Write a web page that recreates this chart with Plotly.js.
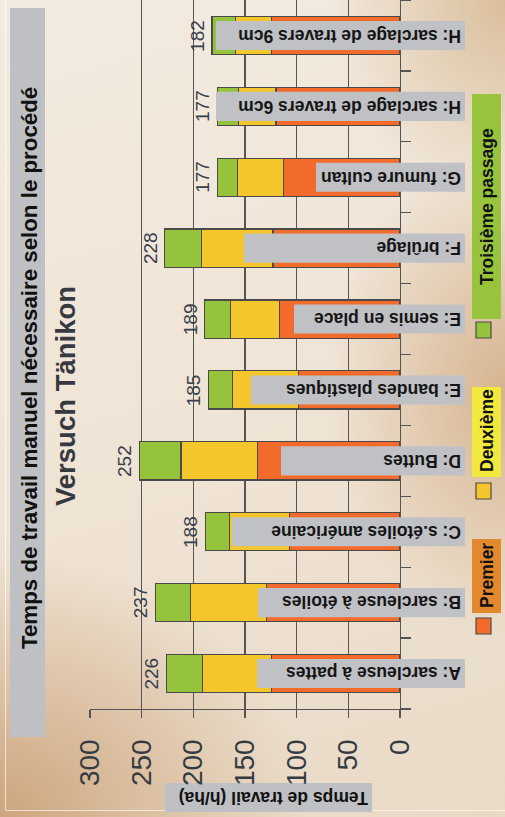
<!DOCTYPE html>
<html>
<head>
<meta charset="utf-8">
<script src="https://cdn.plot.ly/plotly-3.0.1.min.js"></script>
<style>
  html, body { margin: 0; padding: 0; }
  body {
    position: relative;
    width: 505px; height: 817px; overflow: hidden;
    background:
      radial-gradient(ellipse 60% 32% at 0% 100%, rgba(205,165,125,1) 0%, rgba(205,165,125,0) 100%),
      radial-gradient(ellipse 35% 30% at 100% 48%, rgba(214,180,143,1) 0%, rgba(214,180,143,0) 100%),
      radial-gradient(ellipse 35% 25% at 100% 0%, rgba(218,190,155,1) 0%, rgba(218,190,155,0) 100%),
      linear-gradient(165deg, #f3ebe0 0%, #efe3d4 55%, #e9dac6 100%);
  }
  #frame {
    position: absolute; left: 5px; top: -5px; width: 520px; height: 816px;
    border-left: 1.5px solid rgba(255,255,255,0.65);
    border-bottom: 1.5px solid rgba(255,255,255,0.65);
    box-sizing: border-box; pointer-events: none;
  }
  #chart { position: absolute; left: 0; top: 0; width: 505px; height: 817px; }
</style>
</head>
<body>
<div id="frame"></div>
<div id="chart"></div>
<script>
// ---- data ----
const categories = [
  'A: sarcleuse à pattes',
  'B: sarcleuse à étoiles',
  'C: s.étoiles américaine',
  'D: Buttes',
  'E: bandes plastiques',
  'E: semis en place',
  'F: brûlage',
  'G: fumure cultan',
  'H: sarclage de travers 6cm',
  'H: sarclage de travers 9cm'
];
const premier   = [124, 129, 107, 138,  98, 117, 123, 113, 120, 124];
const deuxieme  = [ 67,  74,  58,  74,  64,  47,  69,  44,  36,  35];
const troisieme = [ 35,  34,  23,  40,  23,  25,  36,  20,  21,  23];
const totals    = [226, 237, 188, 252, 185, 189, 228, 177, 177, 182];
const seriesNames = ['Premier', 'Deuxième', 'Troisième passage'];
const valueTicks = [0, 50, 100, 150, 200, 250, 300];

// ---- layout helpers (pixels of the 505x817 page) ----
const W = 505, H = 817;
const M = {l: 90, r: 105, t: 0, b: 108};
const PW = W - M.l - M.r, PH = H - M.t - M.b;
const px = x => (x - M.l) / PW;          // page x -> paper x
const py = y => (H - M.b - y) / PH;      // page y -> paper y

const barColors = ['#f26b2a', '#f4c62c', '#95c33c'];
const legendBg  = ['#e2892e', '#f1e93e', '#97c43c'];
const outline = '#4a4a4a';
const font = 'Liberation Sans, Arial, sans-serif';
const labelBoxLeft = [257, 258, 232, 281, 251, 294, 244, 316, 216, 216];

const seriesValues = [premier, deuxieme, troisieme];
const traces = seriesValues.map((vals, i) => ({
  type: 'bar',
  orientation: 'h',
  name: seriesNames[i],
  x: vals,
  y: categories,
  marker: {color: barColors[i], line: {color: outline, width: 1.2}},
  hoverinfo: 'x+y+name'
}));

const shapes = [];
const annotations = [];

// category label boxes + upside-down text
categories.forEach((c, i) => {
  shapes.push({
    type: 'rect', xref: 'paper', yref: 'y', layer: 'above',
    x0: px(labelBoxLeft[i]), x1: px(465), y0: i - 0.205, y1: i + 0.205,
    fillcolor: '#c0c1c4', line: {width: 0}
  });
  annotations.push({
    xref: 'paper', yref: 'y', x: px(462), y: i, xanchor: 'right', yanchor: 'middle',
    text: c, textangle: 180, showarrow: false, borderpad: 0,
    font: {family: font, size: 17.5, color: '#151515', weight: 'bold'}
  });
  // totals
  annotations.push({
    xref: 'x', yref: 'y', x: totals[i], y: i, xanchor: 'right', yanchor: 'middle',
    xshift: -2, text: String(totals[i]), textangle: -90, showarrow: false,
    font: {family: font, size: 19, color: '#38404c'}
  });
});

// main title box
shapes.push({type: 'rect', xref: 'paper', yref: 'paper', layer: 'below',
  x0: px(10), x1: px(45), y0: py(737), y1: py(8), fillcolor: '#bfc0c4', line: {width: 0}});
annotations.push({xref: 'paper', yref: 'paper', x: px(29), y: py(368),
  xanchor: 'center', yanchor: 'middle', showarrow: false, textangle: -90,
  text: 'Temps de travail manuel nécessaire selon le procédé',
  font: {family: font, size: 22.3, color: '#111', weight: 'bold'}});
annotations.push({xref: 'paper', yref: 'paper', x: px(65), y: py(396),
  xanchor: 'center', yanchor: 'middle', showarrow: false, textangle: -90,
  text: 'Versuch Tänikon',
  font: {family: font, size: 27.5, color: '#363a40', weight: 'bold'}});

// value axis title box
shapes.push({type: 'rect', xref: 'paper', yref: 'paper', layer: 'below',
  x0: px(165), x1: px(372), y0: py(812), y1: py(783), fillcolor: '#bfc0c4', line: {width: 0}});
annotations.push({xref: 'paper', yref: 'paper', x: px(274), y: py(797.5),
  xanchor: 'center', yanchor: 'middle', showarrow: false, textangle: 180,
  text: 'Temps de travail (h/ha)',
  font: {family: font, size: 17.5, color: '#111', weight: 'bold'}});

// legend (drawn manually, rotated)
const legendBoxes = [
  {top: 539, bottom: 613, sq: [618, 634], tc: 576},
  {top: 387, bottom: 477, sq: [483, 499], tc: 431},
  {top: 94,  bottom: 319, sq: [322, 338], tc: 207}
];
legendBoxes.forEach((b, i) => {
  shapes.push({type: 'rect', xref: 'paper', yref: 'paper', layer: 'below',
    x0: px(472), x1: px(501), y0: py(b.bottom), y1: py(b.top),
    fillcolor: legendBg[i], line: {width: 0}});
  shapes.push({type: 'rect', xref: 'paper', yref: 'paper', layer: 'above',
    x0: px(476), x1: px(491), y0: py(b.sq[1]), y1: py(b.sq[0]),
    fillcolor: barColors[i], line: {color: outline, width: 1.2}});
  annotations.push({xref: 'paper', yref: 'paper', x: px(487), y: py(b.tc),
    xanchor: 'center', yanchor: 'middle', showarrow: false, textangle: -90,
    text: seriesNames[i],
    font: {family: font, size: 17.5, color: '#111', weight: 'bold'}});
});

const layout = {
  width: W, height: H,
  margin: M,
  paper_bgcolor: 'rgba(0,0,0,0)',
  plot_bgcolor: 'rgba(0,0,0,0)',
  barmode: 'stack',
  bargap: 0.46,
  showlegend: false,
  font: {family: font},
  xaxis: {
    range: [300, 0], tickvals: valueTicks, ticktext: valueTicks.map(String),
    tickangle: -90, tickfont: {family: font, size: 28, color: '#353b42'},
    ticks: 'outside', ticklen: 8, tickcolor: '#555', tickwidth: 1.2,
    showgrid: true, gridcolor: '#555', gridwidth: 1.2,
    zeroline: false, showline: true, linecolor: '#555', linewidth: 1.2, mirror: true,
    ticklabelstandoff: 10, fixedrange: true
  },
  yaxis: {
    type: 'category', categoryorder: 'array', categoryarray: categories,
    side: 'right', showticklabels: false, showgrid: false, zeroline: false,
    ticks: 'outside', tickson: 'boundaries', ticklen: 10, tickcolor: '#555', tickwidth: 1.2,
    showline: true, linecolor: '#555', linewidth: 1.2, fixedrange: true
  },
  shapes: shapes,
  annotations: annotations
};

Plotly.newPlot('chart', traces, layout, {displayModeBar: false, staticPlot: true});
</script>
</body>
</html>
